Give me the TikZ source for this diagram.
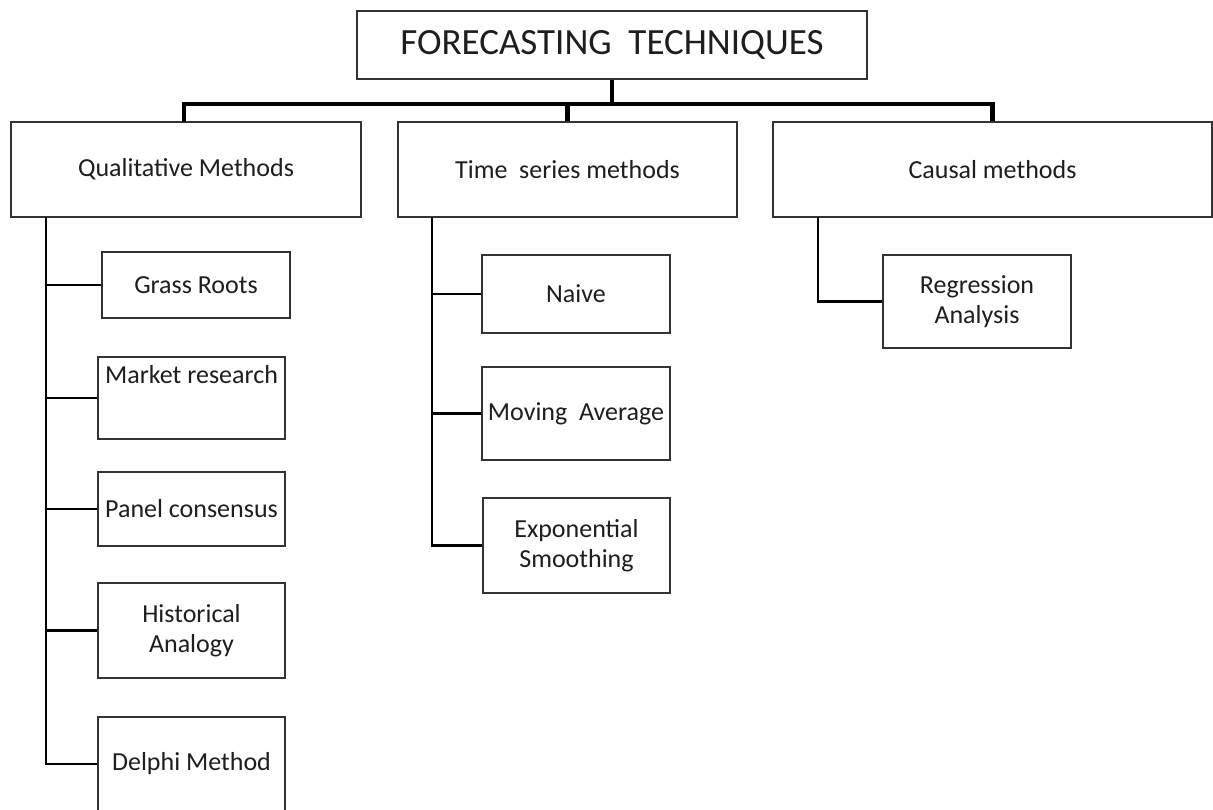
\documentclass[tikz,border=0pt]{standalone}
\usepackage{fontspec}
\setmainfont{Carlito}
\definecolor{edge}{HTML}{333333}
\definecolor{ink}{HTML}{1E1E1E}
\begin{document}
\begin{tikzpicture}[x=1pt,y=-1pt,
  box/.style={draw=edge, line width=2.5pt, fill=white, inner sep=0pt,
    align=center, text=ink, font=\fontsize{26}{30}\selectfont},
  lbl/.style={inner sep=0pt, text=ink, font=\fontsize{26}{30}\selectfont},
  bus/.style={draw=black, line width=4.5pt},
  link/.style={draw=black, line width=2.4pt}]
\useasboundingbox (0,0) rectangle (1213,809);
\clip (0,0) rectangle (1213,809);

% root
\node (top) [box, minimum width=510pt, minimum height=68pt,
  font=\fontsize{37}{41}\selectfont] at (612,45) {FORECASTING\ \ TECHNIQUES};

% three families
\node (qual) [box, minimum width=350pt, minimum height=95pt] at (186,169.5) {Qualitative Methods};
\node (ts) [box, minimum width=339pt, minimum height=95pt] at (567.5,169.5) {Time\ \ series methods};
\node (causal) [box, minimum width=439pt, minimum height=95pt] at (992.5,169.5) {Causal methods};

% qualitative methods
\node (grass) [box, minimum width=188pt, minimum height=66pt] at (196,285) {Grass Roots};
\node (market) [box, minimum width=187pt, minimum height=82pt] at (191.5,398) {};
\node (marketlbl) [lbl, anchor=base] at (191.5,383) {Market research};
\node (panel) [box, minimum width=187pt, minimum height=74pt] at (191.5,509) {Panel consensus};
\node (hist) [box, minimum width=187pt, minimum height=95pt] at (191.5,630.5) {Historical\\Analogy};
\node (delphi) [box, minimum width=187pt, minimum height=94pt] at (191.5,764) {Delphi Method};

% time series methods
\node (naive) [box, minimum width=188pt, minimum height=78pt] at (576,294) {Naive};
\node (moving) [box, minimum width=188pt, minimum height=93pt] at (576,413.5) {Moving\ \ Average};
\node (expo) [box, minimum width=187pt, minimum height=95pt] at (576.5,545.5) {Exponential\\Smoothing};

% causal methods
\node (regr) [box, minimum width=188pt, minimum height=93pt] at (977,301.5) {Regression\\Analysis};

% main bus
\coordinate (busmid) at (612,104);
\coordinate (qualtop) at (184,122);
\draw[bus] (top.south) -- (busmid);
\draw[bus] (qualtop) |- (busmid) -| (causal.north);
\draw[bus] (ts.north) -- (ts.north |- busmid);

% trunks
\coordinate (qtrunk) at (46,217);
\coordinate (ttrunk) at (432,217);
\coordinate (ctrunk) at (818,217);
\foreach \n in {grass,market,panel,hist,delphi}
  \draw[link] (qtrunk) |- (\n.west);
\foreach \n in {naive,moving,expo}
  \draw[link] (ttrunk) |- (\n.west);
\draw[link] (ctrunk) |- (regr.west);
\end{tikzpicture}
\end{document}
